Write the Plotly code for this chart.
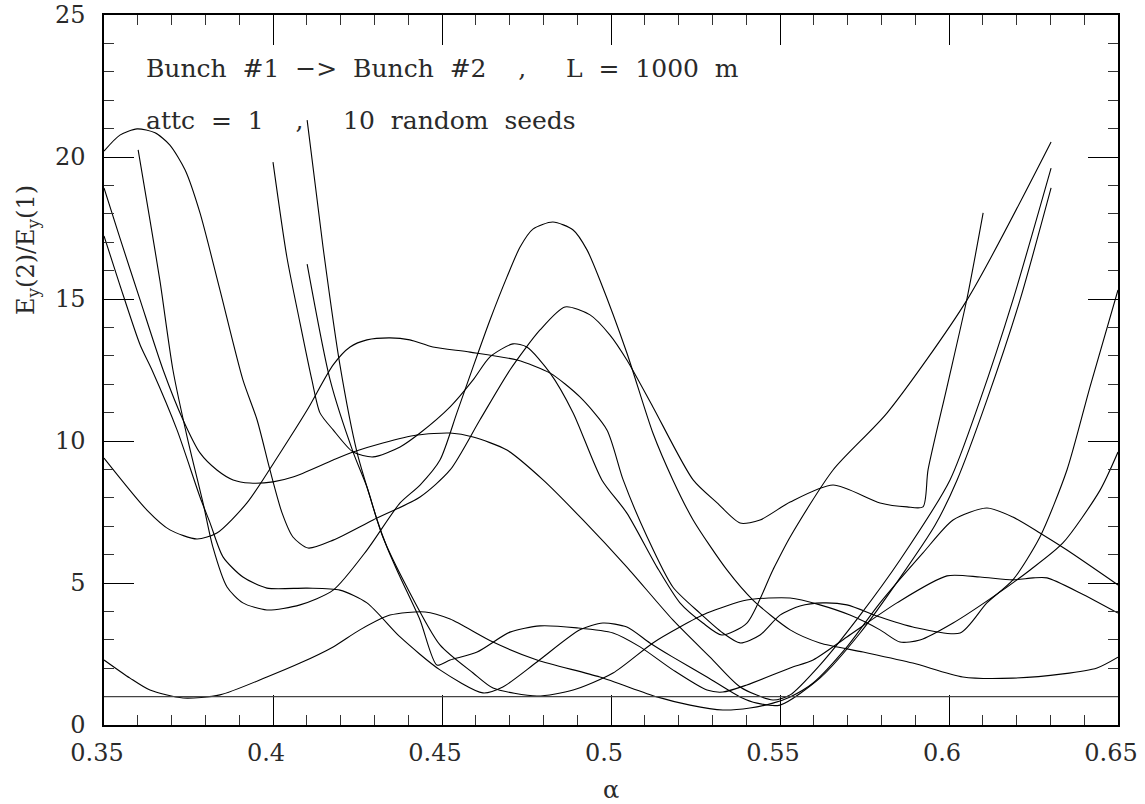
import plotly.graph_objects as go

# ---- data (alpha, E_y(2)/E_y(1)) ----
seed1_alpha = [0.35, 0.3547, 0.3598, 0.3651, 0.3695, 0.374, 0.3784, 0.3843, 0.3911, 0.3953, 0.3991, 0.4027, 0.4059, 0.4104, 0.4178, 0.4296, 0.4435, 0.4524, 0.4612, 0.4701, 0.479, 0.4864, 0.4938, 0.4997, 0.5047, 0.5124, 0.5243, 0.5314, 0.5382, 0.5441, 0.553, 0.5657, 0.5796, 0.5876, 0.5923, 0.5938, 0.5994, 0.6053, 0.6101]
seed1_ratio = [20.21, 20.77, 20.99, 20.85, 20.42, 19.54, 18.03, 15.32, 12.15, 10.74, 8.98, 7.46, 6.62, 6.23, 6.51, 7.22, 8.03, 8.98, 10.74, 12.50, 13.91, 14.72, 14.44, 13.73, 12.85, 11.20, 8.63, 7.82, 7.11, 7.22, 7.85, 8.45, 7.82, 7.68, 7.68, 8.98, 11.9, 15.0, 18.03]

seed2_alpha = [0.35, 0.3547, 0.3607, 0.3675, 0.3734, 0.3784, 0.3834, 0.3882, 0.3932, 0.4, 0.4059, 0.4178, 0.4237, 0.4325, 0.4426, 0.4524, 0.4592, 0.4692, 0.4799, 0.4917, 0.5047, 0.5183, 0.5293, 0.5382, 0.5479, 0.553, 0.5618, 0.5737, 0.5855, 0.6003, 0.6092, 0.6189, 0.6302]
seed2_ratio = [18.91, 17.15, 14.96, 12.50, 10.74, 9.58, 8.98, 8.63, 8.52, 8.56, 8.73, 9.33, 9.61, 9.93, 10.21, 10.28, 10.14, 9.68, 8.63, 7.22, 5.56, 3.70, 2.39, 1.34, 0.88, 1.06, 2.11, 3.87, 5.81, 8.63, 11.44, 14.96, 19.61]

seed3_alpha = [0.35, 0.3547, 0.3607, 0.3642, 0.3716, 0.3784, 0.3814, 0.3852, 0.3911, 0.3982, 0.4101, 0.4198, 0.4278, 0.4376, 0.4494, 0.4621, 0.468, 0.4781, 0.4908, 0.4976, 0.5047, 0.5115, 0.5183, 0.5284, 0.5382, 0.5432, 0.55, 0.5618, 0.5737, 0.5855, 0.5959, 0.6024, 0.6112, 0.621, 0.6302]
seed3_ratio = [17.22, 15.49, 13.38, 12.50, 10.39, 8.03, 7.11, 5.92, 5.21, 4.82, 4.82, 4.75, 4.30, 3.10, 1.94, 1.13, 1.34, 2.22, 3.35, 3.59, 3.45, 2.89, 2.39, 1.69, 0.99, 0.77, 0.70, 1.65, 3.24, 5.18, 7.04, 8.63, 11.44, 14.96, 18.91]

seed4_alpha = [0.35, 0.3627, 0.3695, 0.3775, 0.3834, 0.3923, 0.4021, 0.4101, 0.4178, 0.4228, 0.4278, 0.4346, 0.4405, 0.4473, 0.4583, 0.4722, 0.482, 0.4908, 0.4988, 0.5036, 0.5107, 0.5183, 0.5263, 0.5331, 0.5382, 0.5441, 0.55, 0.5559, 0.5627, 0.5698, 0.5796, 0.5893, 0.6033, 0.6112, 0.6189, 0.6269, 0.6349, 0.6417, 0.65]
seed4_ratio = [9.40, 7.57, 6.87, 6.55, 6.76, 7.82, 9.58, 11.09, 12.68, 13.31, 13.56, 13.63, 13.56, 13.31, 13.13, 12.85, 12.39, 11.55, 10.39, 8.63, 6.62, 4.86, 3.94, 3.24, 2.89, 3.17, 3.87, 4.19, 4.30, 4.23, 3.80, 3.45, 3.24, 4.30, 5.11, 6.62, 8.98, 11.90, 15.32]

seed5_alpha = [0.35, 0.3577, 0.3636, 0.3734, 0.3843, 0.3982, 0.408, 0.4178, 0.4257, 0.4346, 0.445, 0.4524, 0.4651, 0.4781, 0.4967, 0.5136, 0.5234, 0.5331, 0.5411, 0.5479, 0.553, 0.5598, 0.5698, 0.5796, 0.5923, 0.6012, 0.6112, 0.6189, 0.6269, 0.6349, 0.65]
seed5_ratio = [2.29, 1.65, 1.23, 0.95, 1.06, 1.69, 2.18, 2.75, 3.35, 3.87, 3.98, 3.73, 2.92, 2.29, 1.69, 0.99, 0.70, 0.53, 0.60, 0.77, 0.99, 1.48, 2.75, 4.30, 6.06, 7.22, 7.64, 7.32, 6.76, 6.16, 4.93]

seed6_alpha = [0.3601, 0.3636, 0.3666, 0.3704, 0.3746, 0.3793, 0.3822, 0.3864, 0.3911, 0.3982, 0.408, 0.4178, 0.4278, 0.4376, 0.4435, 0.4494, 0.4544, 0.4592, 0.4642, 0.4692, 0.4731, 0.4769, 0.4828, 0.4888, 0.4929, 0.4967, 0.5047, 0.5124, 0.5183, 0.5243, 0.5343, 0.542, 0.553, 0.5618, 0.5746, 0.5893, 0.6041, 0.6189, 0.6337, 0.6438, 0.65]
seed6_ratio = [20.25, 17.78, 15.6, 12.5, 10.14, 7.82, 6.27, 4.86, 4.30, 4.05, 4.23, 4.75, 6.16, 7.82, 8.45, 9.33, 10.99, 12.61, 14.26, 15.77, 16.83, 17.46, 17.71, 17.43, 16.73, 15.67, 13.10, 10.28, 8.63, 7.22, 5.46, 4.40, 3.35, 2.89, 2.57, 2.18, 1.69, 1.65, 1.80, 2.01, 2.39]

seed7_alpha = [0.4, 0.4041, 0.408, 0.4115, 0.4139, 0.4178, 0.4237, 0.4296, 0.4376, 0.4435, 0.4524, 0.4592, 0.4642, 0.471, 0.4751, 0.482, 0.4888, 0.4973, 0.5047, 0.5136, 0.5204, 0.5272, 0.5328, 0.5402, 0.5479, 0.553, 0.5657, 0.5817, 0.6053, 0.6302]
seed7_ratio = [19.82, 16.48, 14.15, 12.15, 10.99, 10.39, 9.61, 9.44, 9.79, 10.28, 11.20, 12.15, 12.96, 13.42, 13.31, 12.39, 10.99, 8.63, 7.46, 5.56, 4.30, 3.59, 3.17, 3.59, 5.46, 6.62, 8.98, 10.99, 14.96, 20.53]

seed8_alpha = [0.4101, 0.4169, 0.4237, 0.4278, 0.4308, 0.4337, 0.4376, 0.4435, 0.4485, 0.4524, 0.4604, 0.4701, 0.479, 0.4899, 0.5006, 0.5086, 0.5183, 0.5284, 0.5331, 0.5402, 0.553, 0.5598, 0.5698, 0.5846, 0.5994, 0.6092, 0.6189, 0.6249, 0.629, 0.6388, 0.65]
seed8_ratio = [16.23, 12.15, 9.61, 8.38, 7.22, 6.27, 5.21, 3.70, 2.11, 2.29, 2.57, 3.27, 3.49, 3.42, 3.24, 2.75, 1.94, 1.23, 1.16, 1.41, 2.01, 2.29, 3.10, 4.30, 5.25, 5.21, 5.11, 5.18, 5.18, 4.65, 3.94]

seed9_alpha = [0.4101, 0.4148, 0.4198, 0.4249, 0.4287, 0.4325, 0.4396, 0.4494, 0.4592, 0.4651, 0.4781, 0.4888, 0.5006, 0.5124, 0.5204, 0.5284, 0.5402, 0.553, 0.5618, 0.5707, 0.5796, 0.5855, 0.5914, 0.6012, 0.613, 0.624, 0.6337, 0.6447, 0.65]
seed9_ratio = [21.30, 16.83, 12.68, 9.58, 8.03, 6.62, 4.86, 2.82, 1.83, 1.30, 1.02, 1.23, 1.83, 2.89, 3.45, 3.94, 4.40, 4.47, 4.23, 3.87, 3.35, 2.92, 2.99, 3.59, 4.51, 5.46, 6.41, 8.27, 9.61]

reference_level = 1.0

x_tick_values = [0.35, 0.4, 0.45, 0.5, 0.55, 0.6, 0.65]
x_tick_labels = ["0.35", "0.4", "0.45", "0.5", "0.55", "0.6", "0.65"]
y_tick_values = [0, 5, 10, 15, 20, 25]
y_tick_labels = ["0", "5", "10", "15", "20", "25"]

title_line1 = "Bunch  #1  −>  Bunch  #2    ,     L  =  1000  m"
title_line2 = "attc  =  1    ,     10  random  seeds"
y_title = "E<sub>y</sub>(2)/E<sub>y</sub>(1)"
x_title = "α"

series = [
    (seed1_alpha, seed1_ratio), (seed2_alpha, seed2_ratio), (seed3_alpha, seed3_ratio),
    (seed4_alpha, seed4_ratio), (seed5_alpha, seed5_ratio), (seed6_alpha, seed6_ratio),
    (seed7_alpha, seed7_ratio), (seed8_alpha, seed8_ratio), (seed9_alpha, seed9_ratio),
]

FONT = "DejaVu Serif"
TXT = "#2a2a2a"

fig = go.Figure()
for xs, ys in series:
    fig.add_trace(go.Scatter(x=xs, y=ys, mode="lines",
                             line=dict(color="black", width=1.1, shape="spline", smoothing=0.7),
                             showlegend=False, hoverinfo="skip"))

fig.add_shape(type="line", xref="paper", yref="y", x0=0, x1=1,
              y0=reference_level, y1=reference_level,
              line=dict(color="#444", width=1.2))

axis_common = dict(showline=True, linecolor="black", linewidth=1.5, mirror="allticks",
                   ticks="inside", ticklen=30, tickwidth=1, tickcolor="black",
                   showgrid=False, zeroline=False, automargin=False,
                   tickfont=dict(family=FONT, size=24, color=TXT))

fig.update_xaxes(range=[0.35, 0.65], tickvals=x_tick_values, ticktext=x_tick_labels,
                 minor=dict(dtick=0.01, tick0=0.35, ticks="inside", ticklen=10,
                            tickwidth=1, tickcolor="#333", showgrid=False),
                 ticklabelstandoff=5, ticklabelshift=-7, **axis_common)
fig.update_yaxes(range=[0, 25], tickvals=y_tick_values, ticktext=y_tick_labels,
                 minor=dict(dtick=1, tick0=0, ticks="inside", ticklen=10,
                            tickwidth=1, tickcolor="#333", showgrid=False),
                 ticklabelstandoff=12, **axis_common)

def px_to_paper(px, py):
    return (px - 104) / 1014.0, (725 - py) / 710.0

ax, ay = px_to_paper(144, 68)
fig.add_annotation(text=title_line1, x=ax, y=ay, xref="paper", yref="paper",
                   xanchor="left", yanchor="middle", showarrow=False,
                   font=dict(family=FONT, size=25, color=TXT))
ax, ay = px_to_paper(144, 120)
fig.add_annotation(text=title_line2, x=ax, y=ay, xref="paper", yref="paper",
                   xanchor="left", yanchor="middle", showarrow=False,
                   font=dict(family=FONT, size=25, color=TXT))
ax, ay = px_to_paper(27, 250)
fig.add_annotation(text=y_title, x=ax, y=ay, xref="paper", yref="paper",
                   xanchor="center", yanchor="middle", showarrow=False, textangle=-90,
                   font=dict(family=FONT, size=24, color=TXT))
ax, ay = px_to_paper(611, 790)
fig.add_annotation(text=x_title, x=ax, y=ay, xref="paper", yref="paper",
                   xanchor="center", yanchor="middle", showarrow=False,
                   font=dict(family=FONT, size=24, color=TXT))

fig.update_layout(width=1145, height=804, paper_bgcolor="white", plot_bgcolor="white",
                  margin=dict(l=104, r=27, t=15, b=79, autoexpand=False), showlegend=False)

fig.write_html("out.html")
